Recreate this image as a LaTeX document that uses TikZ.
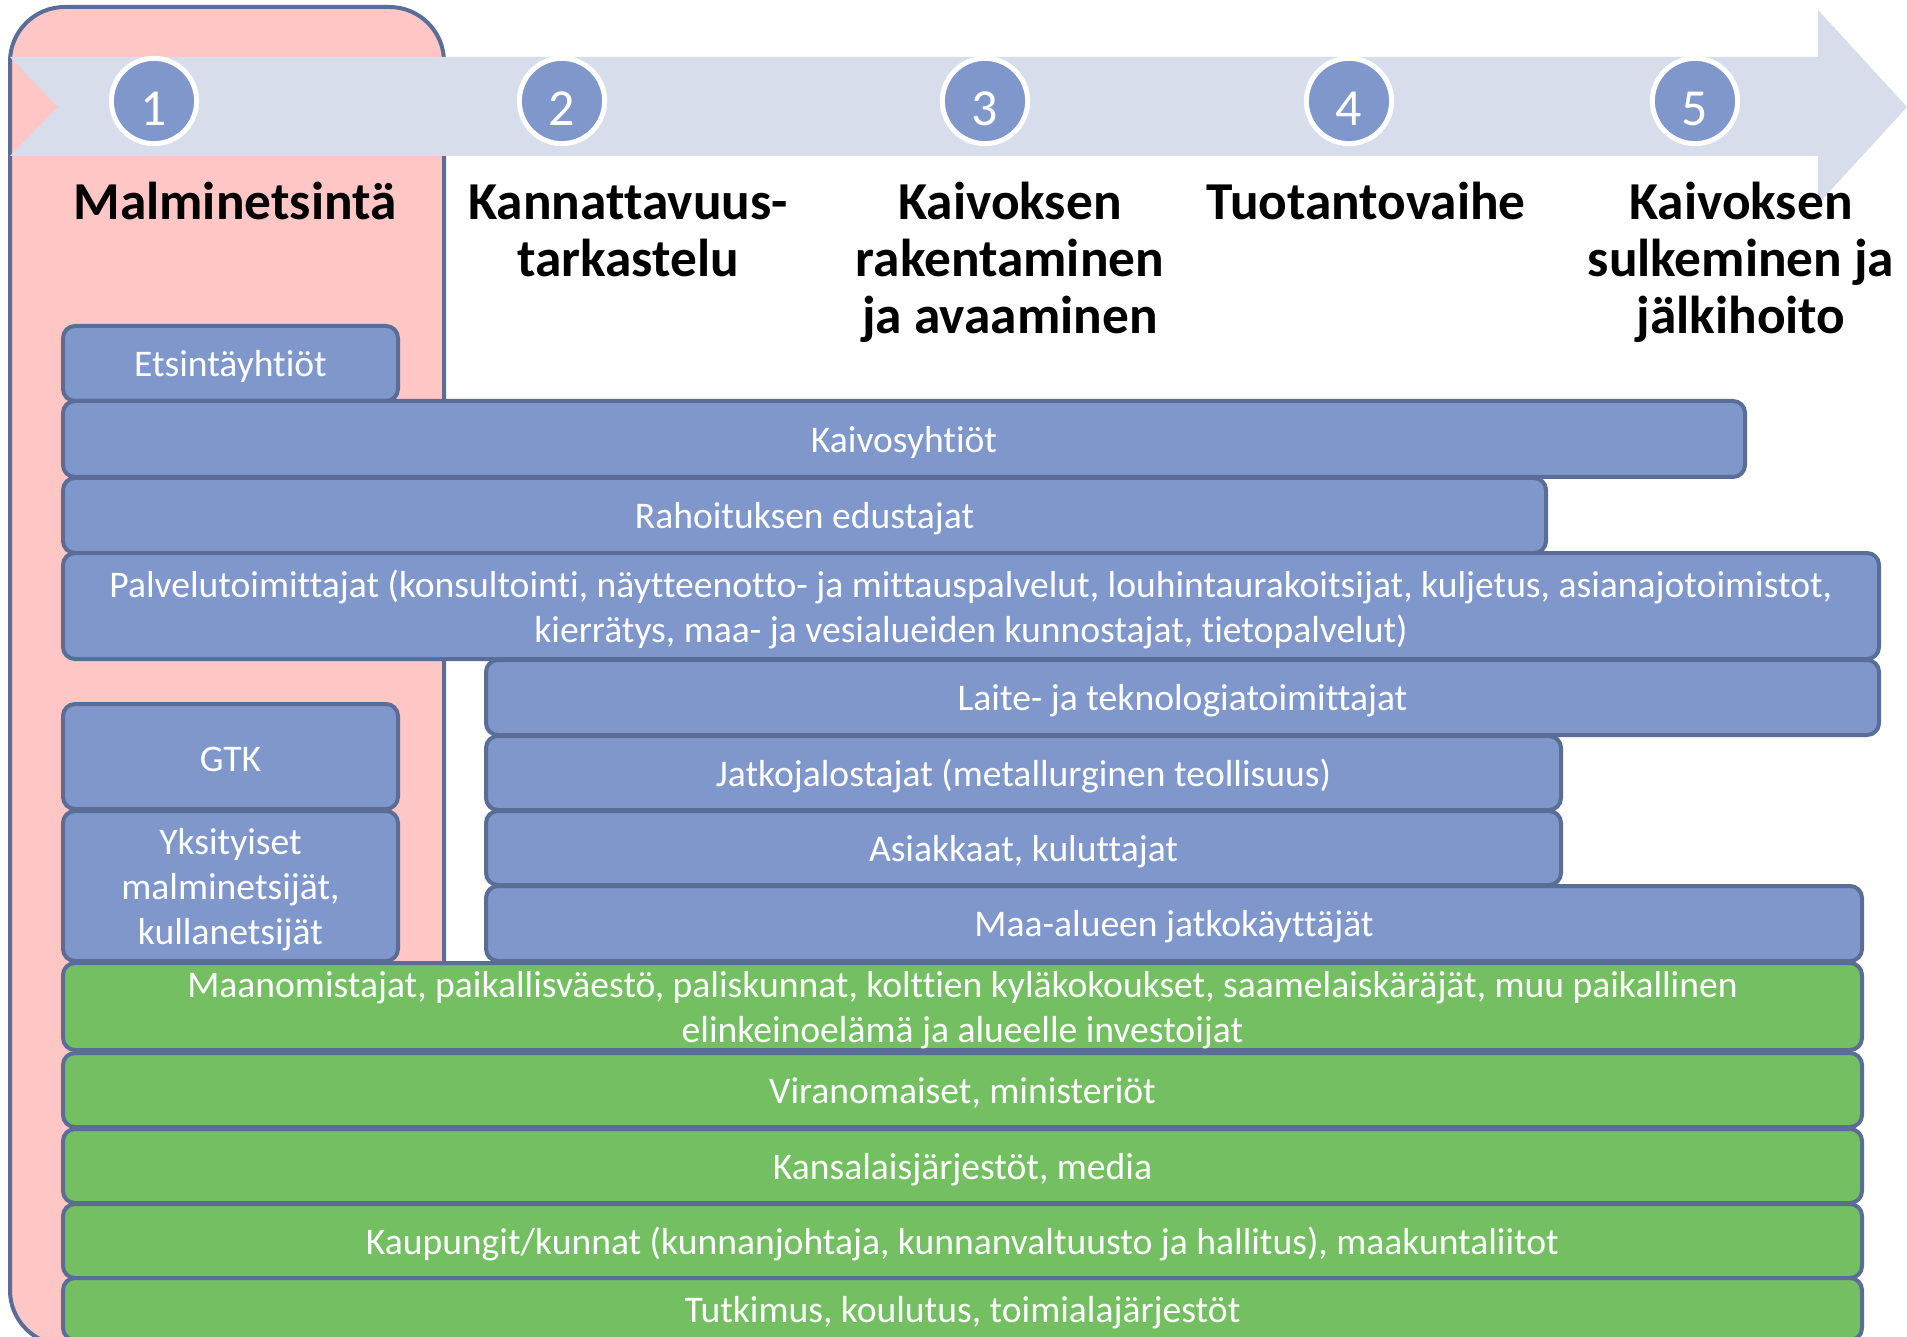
\documentclass[tikz,border=0pt]{standalone}
\usepackage{fontspec}
\setmainfont{Carlito}[Ligatures=NoCommon, RawFeature={-liga;-clig;-dlig;-calt}]
\definecolor{edge}{HTML}{5A6D96}
\definecolor{pinkfill}{HTML}{FFC6C6}
\definecolor{boxblue}{HTML}{8097CC}
\definecolor{boxgreen}{HTML}{73BF62}
\definecolor{band}{HTML}{D7DDEA}
\definecolor{circfill}{HTML}{8097CC}
\newcommand\bx[7]{\node[#2, minimum width={(#5-#3)*0.75pt}, minimum height={(#6-#4)*0.75pt}] (#1) at ({(#3+#5)/2},{(#4+#6)/2}) {};
  \node[boxtext] (#1t) at (#1.center) {#7};}
\newcommand\numtxt[1]{\raisebox{-6pt}[\height][\depth]{#1}}
\begin{document}
\begin{tikzpicture}[x=0.75pt,y=-0.75pt,
  panel/.style={draw=edge, fill=pinkfill, line width=3pt, rounded corners=41pt},
  bandstyle/.style={fill=band},
  numcirc/.style={circle, fill=circfill, draw=white, line width=3.75pt, minimum size=64pt, inner sep=0pt, text=white, font=\fontsize{39}{40}\selectfont},
  heading/.style={font=\bfseries\fontsize{40}{42.75}\selectfont, align=center, anchor=base, inner sep=0pt},
  bbox/.style={draw=edge, fill=boxblue, line width=3pt, rounded corners=9pt, inner sep=0pt},
  gbox/.style={bbox, fill=boxgreen},
  boxtext/.style={inner sep=0pt, yshift=-2.5pt, text=white, font=\fontsize{28.2}{33.75}\selectfont, align=center}]
\useasboundingbox (0,0) rectangle (1907,1337);
\clip (0,0) rectangle (1907,1337);
\fill[white] (0,0) rectangle (1907,1337);
% left panel
\draw[panel] (10,7) rectangle (444,1345);
% arrow band
\fill[bandstyle] (10,57) -- (1818,57) -- (1818,10) -- (1907,107) -- (1818,204) -- (1818,156) -- (10,156) -- (58,107) -- cycle;
% numbers
\node[numcirc] (n1) at (154,101) {\numtxt{1}};
\node[numcirc] (n2) at (562,101) {\numtxt{2}};
\node[numcirc] (n3) at (985,101) {\numtxt{3}};
\node[numcirc] (n4) at (1349,101) {\numtxt{4}};
\node[numcirc] (n5) at (1695,101) {\numtxt{5}};
% headings (anchor = baseline of last line)
\node[heading] (h1) at (235,220) {Malminetsintä};
\node[heading] (h2) at (628,277) {Kannattavuus-\\tarkastelu};
\node[heading] (h3) at (1010,334) {Kaivoksen\\rakentaminen\\ja avaaminen};
\node[heading] (h4) at (1366,220) {Tuotantovaihe};
\node[heading] (h5) at (1741,334) {Kaivoksen\\sulkeminen ja\\jälkihoito};
% blue boxes
\bx{b1}{bbox}{63}{326}{398}{401}{Etsintäyhtiöt}
\bx{b2}{bbox}{63}{401}{1745}{477}{Kaivosyhtiöt}
\bx{b3}{bbox}{63}{478}{1546}{553}{Rahoituksen edustajat}
\bx{b4}{bbox}{63}{553}{1879}{659}{Palvelutoimittajat (konsultointi, näytteenotto- ja mittauspalvelut, louhintaurakoitsijat, kuljetus, asianajotoimistot,\\kierrätys, maa- ja vesialueiden kunnostajat, tietopalvelut)}
\bx{b5}{bbox}{486}{660}{1879}{735}{Laite- ja teknologiatoimittajat}
\bx{b6}{bbox}{486}{736}{1561}{810}{Jatkojalostajat (metallurginen teollisuus)}
\bx{b7}{bbox}{486}{811}{1561}{885}{Asiakkaat, kuluttajat}
\bx{b8}{bbox}{486}{886}{1862}{961}{Maa-alueen jatkokäyttäjät}
\bx{b9}{bbox}{63}{704}{398}{809}{GTK}
\bx{b10}{bbox}{63}{811}{398}{961}{Yksityiset\\malminetsijät,\\kullanetsijät}
% green boxes
\bx{g1}{gbox}{63}{963}{1862}{1050}{Maanomistajat, paikallisväestö, paliskunnat, kolttien kyläkokoukset, saamelaiskäräjät, muu paikallinen\\elinkeinoelämä ja alueelle investoijat}
\bx{g2}{gbox}{63}{1053}{1862}{1127}{Viranomaiset, ministeriöt}
\bx{g3}{gbox}{63}{1129}{1862}{1203}{Kansalaisjärjestöt, media}
\bx{g4}{gbox}{63}{1204}{1862}{1278}{Kaupungit/kunnat (kunnanjohtaja, kunnanvaltuusto ja hallitus), maakuntaliitot}
\bx{g5}{gbox}{63}{1278}{1862}{1340}{Tutkimus, koulutus, toimialajärjestöt}
\end{tikzpicture}
\end{document}
